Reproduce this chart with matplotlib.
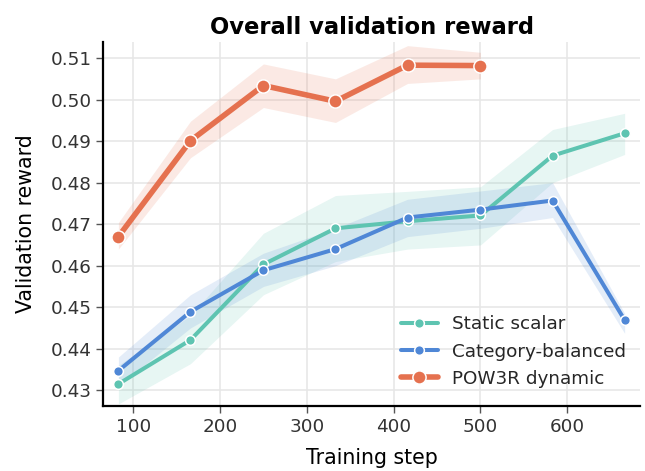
import matplotlib
matplotlib.use("Agg")
import matplotlib.pyplot as plt
import seaborn as sns

# training steps at which validation ran
steps = [83, 166, 250, 333, 416, 500, 583, 666]

static_mean = [0.4315, 0.4421, 0.4603, 0.4690, 0.4707, 0.4721, 0.4865, 0.4919]
static_lo = [0.4267, 0.4364, 0.4530, 0.4610, 0.4640, 0.4650, 0.4800, 0.4868]
static_hi = [0.4360, 0.4480, 0.4678, 0.4769, 0.4779, 0.4790, 0.4928, 0.4967]

balanced_mean = [0.4347, 0.4489, 0.4589, 0.4640, 0.4716, 0.4735, 0.4757, 0.4469]
balanced_lo = [0.4310, 0.4450, 0.4550, 0.4600, 0.4670, 0.4690, 0.4716, 0.4437]
balanced_hi = [0.4380, 0.4530, 0.4630, 0.4690, 0.4760, 0.4780, 0.4800, 0.4485]

pow3r_steps = steps[:6]
pow3r_mean = [0.4670, 0.4901, 0.5034, 0.4996, 0.5083, 0.5082]
pow3r_lo = [0.4640, 0.4860, 0.4981, 0.4945, 0.5039, 0.5050]
pow3r_hi = [0.4704, 0.4948, 0.5086, 0.5050, 0.5130, 0.5114]

sns.set_style("whitegrid")
plt.rcParams['font.family'] = ['DejaVu Sans']

fig = plt.figure(figsize=(6.45, 4.71), dpi=100)
ax = fig.add_axes([0.16, 0.138, 0.832, 0.773])

series = [
    ("Static scalar", steps, static_mean, static_lo, static_hi, "#5ec4b1", 2.9, 7),
    ("Category-balanced", steps, balanced_mean, balanced_lo, balanced_hi, "#4f87d6", 2.9, 7),
    ("POW3R dynamic", pow3r_steps, pow3r_mean, pow3r_lo, pow3r_hi, "#e5714f", 4.0, 9.5),
]

for label, x, y, lo, hi, color, lw, ms in series:
    ax.fill_between(x, lo, hi, color=color, alpha=0.15, linewidth=0)
    ax.plot(x, y, color=color, linewidth=lw, marker="o", markersize=ms,
            markeredgecolor="white", markeredgewidth=1.1, label=label)

ax.set_xlim(65.5, 683.5)
ax.set_ylim(0.4262, 0.5139)
ax.set_xticks([100, 200, 300, 400, 500, 600])
ax.set_yticks([0.43, 0.44, 0.45, 0.46, 0.47, 0.48, 0.49, 0.50, 0.51])
ax.grid(True, color="#e6e6e6", linewidth=1.1)

for side in ["top", "right"]:
    ax.spines[side].set_visible(False)
for side in ["left", "bottom"]:
    ax.spines[side].set_color("black")
    ax.spines[side].set_linewidth(1.6)

ax.tick_params(axis="both", which="both", length=5, width=1, color="#555555",
               labelsize=13.2, labelcolor="#333333", left=True, bottom=True)

ax.set_xlabel("Training step", fontsize=14.8, color="black", labelpad=9)
ax.set_ylabel("Validation reward", fontsize=14.8, color="black", labelpad=10)
ax.set_title("Overall validation reward", fontsize=16.3, fontweight="bold", color="black")

ax.legend(loc="lower right", bbox_to_anchor=(1.009, 0.0), frameon=False,
          fontsize=13.2, handlelength=2.0, borderaxespad=0.6, labelspacing=0.5)

fig.savefig("out.png", dpi=100)
